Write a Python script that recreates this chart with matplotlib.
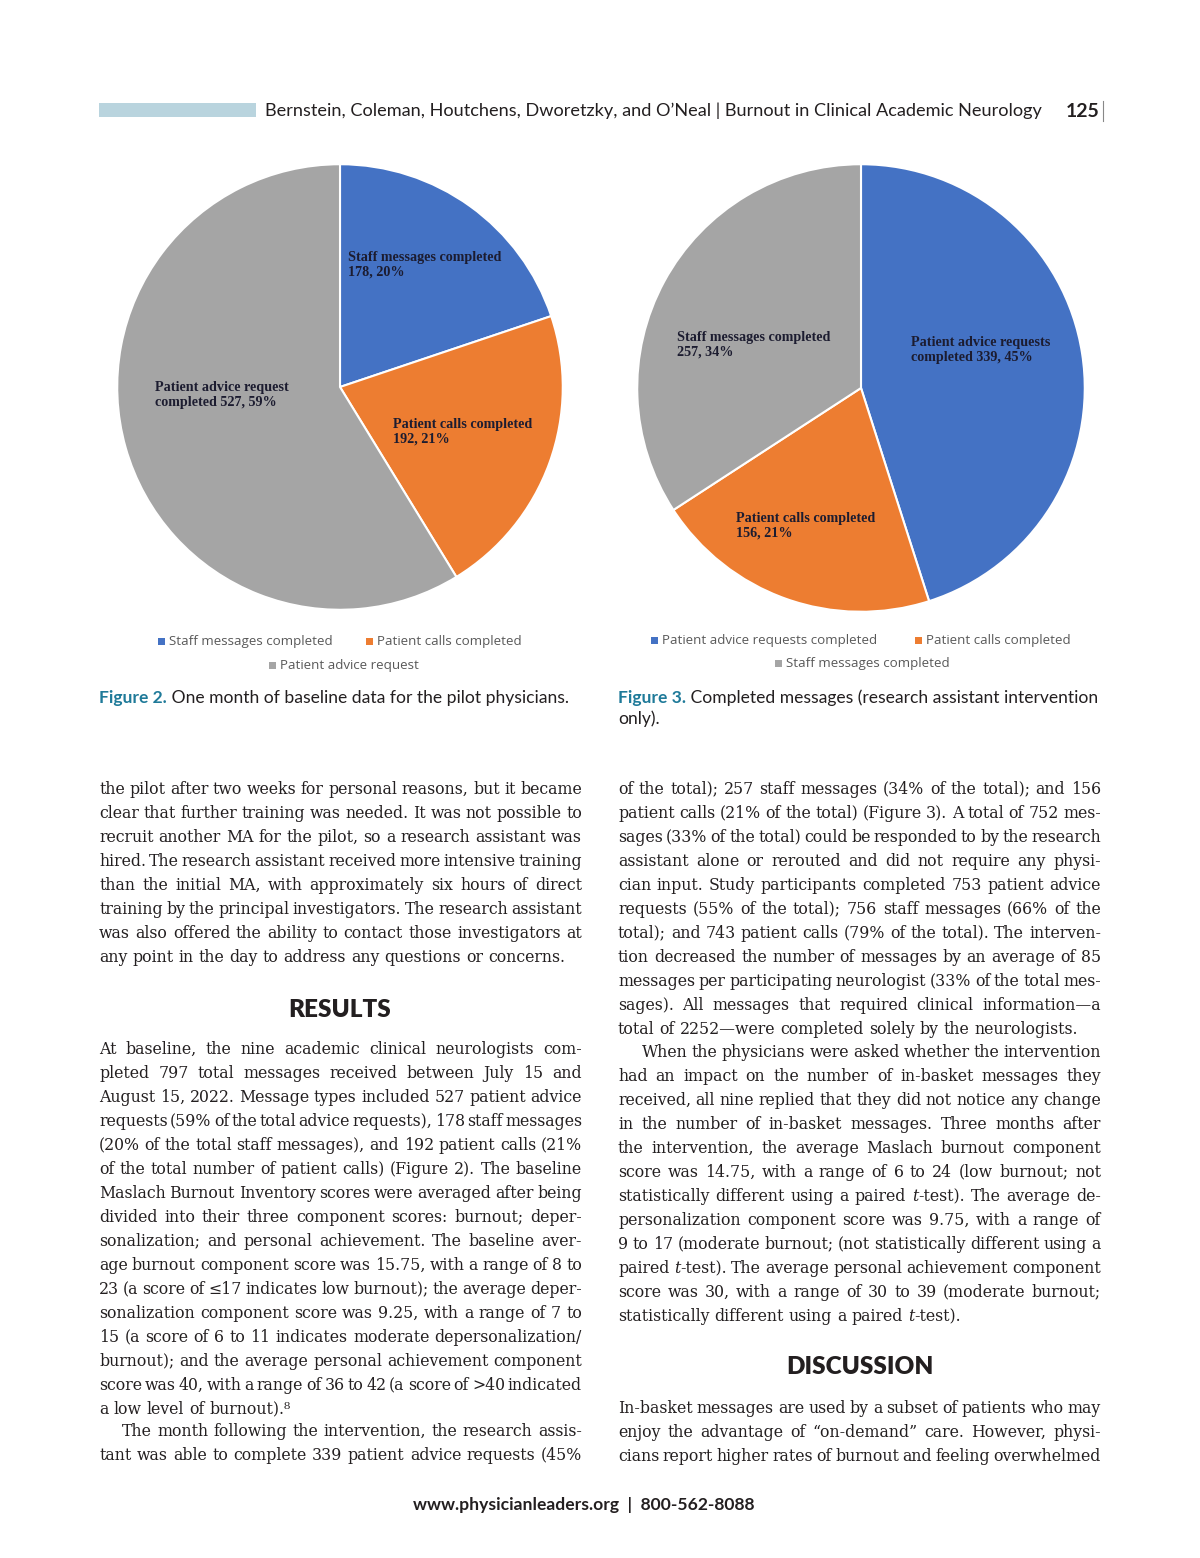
import matplotlib
matplotlib.use('Agg')
import matplotlib.pyplot as plt
from matplotlib.patches import Rectangle
from matplotlib.backends.backend_agg import get_hinting_flag

# ---- data ----
fig2_labels = ['Staff messages completed', 'Patient calls completed', 'Patient advice request']
fig2_values = [178, 192, 527]
fig3_labels = ['Patient advice requests completed', 'Patient calls completed', 'Staff messages completed']
fig3_values = [339, 156, 257]
blue, orange, grey = '#4472C4', '#ED7D31', '#A5A5A5'
fig2_colors = [blue, orange, grey]
fig3_colors = [blue, orange, grey]

left_top = [
    "the pilot after two weeks for personal reasons, but it became",
    "clear that further training was needed. It was not possible to",
    "recruit another MA for the pilot, so a research assistant was",
    "hired. The research assistant received more intensive training",
    "than the initial MA, with approximately six hours of direct",
    "training by the principal investigators. The research assistant",
    "was also offered the ability to contact those investigators at",
    "any point in the day to address any questions or concerns.",
]
left_results = [
    "At baseline, the nine academic clinical neurologists com-",
    "pleted 797 total messages received between July 15 and",
    "August 15, 2022. Message types included 527 patient advice",
    "requests (59% of the total advice requests), 178 staff messages",
    "(20% of the total staff messages), and 192 patient calls (21%",
    "of the total number of patient calls) (Figure 2). The baseline",
    "Maslach Burnout Inventory scores were averaged after being",
    "divided into their three component scores: burnout; deper-",
    "sonalization; and personal achievement. The baseline aver-",
    "age burnout component score was 15.75, with a range of 8 to",
    "23 (a score of \u226417 indicates low burnout); the average deper-",
    "sonalization component score was 9.25, with a range of 7 to",
    "15 (a score of 6 to 11 indicates moderate depersonalization/",
    "burnout); and the average personal achievement component",
    "score was 40, with a range of 36 to 42 (a score of >40 indicated",
    "a low level of burnout).\u2078",
]
left_month = [
    "The month following the intervention, the research assis-",
    "tant was able to complete 339 patient advice requests (45%",
]
right_a = [
    "of the total); 257 staff messages (34% of the total); and 156",
    "patient calls (21% of the total) (Figure 3). A total of 752 mes-",
    "sages (33% of the total) could be responded to by the research",
    "assistant alone or rerouted and did not require any physi-",
    "cian input. Study participants completed 753 patient advice",
    "requests (55% of the total); 756 staff messages (66% of the",
    "total); and 743 patient calls (79% of the total). The interven-",
    "tion decreased the number of messages by an average of 85",
    "messages per participating neurologist (33% of the total mes-",
    "sages). All messages that required clinical information\u2014a",
    "total of 2252\u2014were completed solely by the neurologists.",
]
right_b = [
    "When the physicians were asked whether the intervention",
    "had an impact on the number of in-basket messages they",
    "received, all nine replied that they did not notice any change",
    "in the number of in-basket messages. Three months after",
    "the intervention, the average Maslach burnout component",
    "score was 14.75, with a range of 6 to 24 (low burnout; not",
    "statistically different using a paired *t*-test). The average de-",
    "personalization component score was 9.75, with a range of",
    "9 to 17 (moderate burnout; (not statistically different using a",
    "paired *t*-test). The average personal achievement component",
    "score was 30, with a range of 30 to 39 (moderate burnout;",
    "statistically different using a paired *t*-test).",
]
right_disc = [
    "In-basket messages are used by a subset of patients who may",
    "enjoy the advantage of \u201con-demand\u201d care. However, physi-",
    "cians report higher rates of burnout and feeling overwhelmed",
]

W, H = 1200, 1558
fig = plt.figure(figsize=(W / 100, H / 100), dpi=100)
page = fig.add_axes([0, 0, 1, 1])
page.set_xlim(0, W)
page.set_ylim(H, 0)
page.axis('off')
page.set_zorder(5)

serif = ['DejaVu Serif', 'DejaVu Sans']
lblserif = ['Liberation Serif', 'DejaVu Serif']
sans = ['Lato', 'DejaVu Sans']
ink = '#231f20'
teal = '#1f7a99'


def pie_axes(cx, cy, r):
    return fig.add_axes([(cx - r) / W, 1 - (cy + r) / H, 2 * r / W, 2 * r / H])


def draw_pie(ax, values, colors):
    ax.pie(values, colors=colors, startangle=90, counterclock=False,
           wedgeprops=dict(edgecolor='white', linewidth=1.5))
    ax.set_xlim(-1.01, 1.01)
    ax.set_ylim(-1.01, 1.01)
    ax.set_aspect('equal')


ax1 = pie_axes(340, 387, 225)
draw_pie(ax1, fig2_values, fig2_colors)
ax2 = pie_axes(861, 388, 226)
draw_pie(ax2, fig3_values, fig3_colors)


def pct(v, vals):
    return round(100 * v / sum(vals))


lbl = dict(family=lblserif, fontweight='bold', fontsize=10.2, color='#1c1c30', va='top', ha='left',
           linespacing=1.2)
page.text(348, 251, f"Staff messages completed\n{fig2_values[0]}, {pct(fig2_values[0], fig2_values)}%", **lbl)
page.text(393, 418, f"Patient calls completed\n{fig2_values[1]}, {pct(fig2_values[1], fig2_values)}%", **lbl)
page.text(155, 381, f"Patient advice request\ncompleted {fig2_values[2]}, {pct(fig2_values[2], fig2_values)}%", **lbl)
page.text(677, 331, f"Staff messages completed\n{fig3_values[2]}, {pct(fig3_values[2], fig3_values)}%", **lbl)
page.text(911, 336, f"Patient advice requests\ncompleted {fig3_values[0]}, {pct(fig3_values[0], fig3_values)}%", **lbl)
page.text(736, 512, f"Patient calls completed\n{fig3_values[1]}, {pct(fig3_values[1], fig3_values)}%", **lbl)


# legends (Excel style: two on first row, one centred below)
def legend_item(x, y, label, color):
    page.add_patch(Rectangle((x - 11, y - 3.5), 7, 7, color=color, lw=0))
    page.text(x, y, label, family=['Open Sans', 'DejaVu Sans'], fontsize=9.6, color='#595959',
              va='center', ha='left')


legend_item(169, 641, fig2_labels[0], fig2_colors[0])
legend_item(377, 641, fig2_labels[1], fig2_colors[1])
legend_item(280, 665, fig2_labels[2], fig2_colors[2])
legend_item(662, 640, fig3_labels[0], fig3_colors[0])
legend_item(926, 640, fig3_labels[1], fig3_colors[1])
legend_item(786, 663, fig3_labels[2], fig3_colors[2])

# header
page.add_patch(Rectangle((99, 103), 157, 14, color='#b9d4de', lw=0))
page.text(265, 111, "Bernstein, Coleman, Houtchens, Dworetzky, and O\u2019Neal | Burnout in Clinical Academic Neurology",
          family=sans, fontsize=13.1, color=ink, va='center', ha='left')
page.text(1100, 111, "125", family=sans, fontsize=14, fontweight='bold', color=ink, va='center', ha='right')
page.plot([1102.5, 1102.5], [101, 121], color='#888888', lw=0.8)

# captions
cap = dict(family=sans, fontsize=12.6, va='center', ha='left')
t = page.text(99, 698, "Figure 2.", color=teal, fontweight='bold', **cap)
page.annotate(" One month of baseline data for the pilot physicians.", xycoords=t,
              xy=(1, 0.5), va='center', ha='left', family=sans, fontsize=12.6, color=ink)
t = page.text(618, 698, "Figure 3.", color=teal, fontweight='bold', **cap)
page.annotate(" Completed messages (research assistant intervention", xycoords=t,
              xy=(1, 0.5), va='center', ha='left', family=sans, fontsize=12.6, color=ink)
page.text(618, 719, "only).", color=ink, **cap)

# headings
head = dict(family=sans, fontsize=17.5, fontweight='heavy', color=ink, ha='center', va='center')
page.text(340, 1010, "RESULTS", **head)
page.text(860, 1367, "DISCUSSION", **head)

# footer
page.text(584, 1505, "www.physicianleaders.org  |  800-562-8088", family=sans, fontsize=12.6,
          fontweight='bold', color=ink, ha='center', va='center')

# body text, justified word by word
renderer = fig.canvas.get_renderer()
body = dict(family=serif, fontsize=11.3, color=ink, va='baseline', ha='left')


def snap_y(T, tt):
    # y that puts the rendered baseline of this word exactly on pixel row T
    font = renderer._prepare_font(tt.get_fontproperties())
    font.set_text(tt.get_text(), 0, flags=get_hinting_flag())
    w, h = font.get_width_height()
    desc = font.get_descent()
    c = (h - desc) // 64 - h // 64
    return T - c - desc / 64


def segments(word):
    # *t* marks an italic t
    parts = word.split('*')
    return [(p, 'italic' if k % 2 else 'normal') for k, p in enumerate(parts) if p]


def width(tt):
    return tt.get_window_extent(renderer).width


sp_a = page.text(0, 0, 'a a', **body)
sp_b = page.text(0, 0, 'aa', **body)
space_w = width(sp_a) - width(sp_b)
sp_a.remove()
sp_b.remove()


def paragraph(lines, x0, x1, y0, indent=0, last_full=False):
    for i, s in enumerate(lines):
        T = int(y0 + 24 * i + 5)
        xs = x0 + (indent if i == 0 else 0)
        last = (i == len(lines) - 1) and not last_full
        words = []
        for w in s.split(' '):
            segs = []
            for txt, style in segments(w):
                tt = page.text(0, T, txt, style=style, **body)
                segs.append((tt, width(tt)))
            words.append(segs)
        total = sum(wd for segs in words for _, wd in segs)
        gap = space_w if last else (x1 - xs - total) / (len(words) - 1)
        x = xs
        for segs in words:
            for tt, wd in segs:
                tt.set_position((x, snap_y(T, tt)))
                x += wd
            x += gap


paragraph(left_top, 99, 582, 789)
paragraph(left_results, 99, 582, 1049)
paragraph(left_month, 99, 582, 1431, indent=23, last_full=True)
paragraph(right_a, 618, 1101, 789)
paragraph(right_b, 618, 1101, 1052, indent=24)
paragraph(right_disc, 618, 1101, 1408, last_full=True)

fig.savefig('out.png', dpi=100)
